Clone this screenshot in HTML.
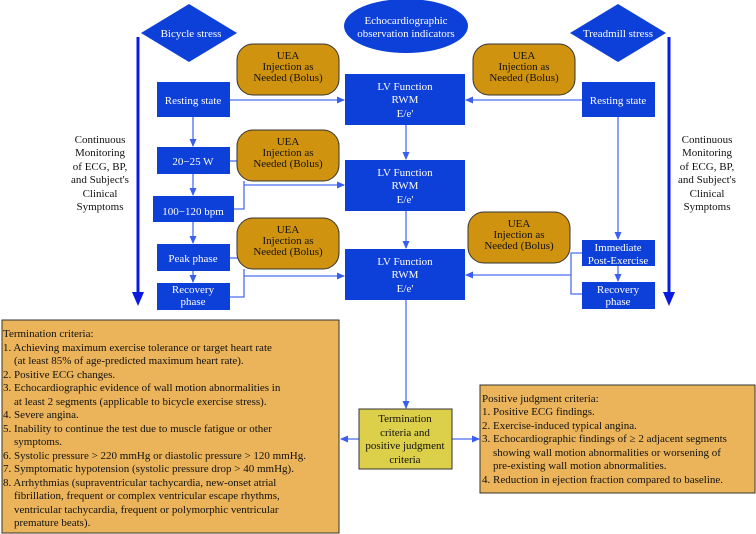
<!DOCTYPE html>
<html><head><meta charset="utf-8"><style>
html,body{margin:0;padding:0;background:#fff}
svg{display:block}
text{font-family:"Liberation Serif",serif}
.w{fill:#fff;font-size:11px;text-anchor:middle}
.k{fill:#111;font-size:11px;text-anchor:middle}
.t{fill:#111;font-size:11px}
.c{stroke:#4a6ef0;stroke-width:1.3;fill:none}
</style></head><body>
<svg width="756" height="534" viewBox="0 0 756 534" xmlns="http://www.w3.org/2000/svg">
<defs>
<marker id="a" markerWidth="8" markerHeight="8" refX="7" refY="4" orient="auto" markerUnits="userSpaceOnUse"><path d="M0,0.5 L8,4 L0,7.5 Z" fill="#3a5ef0"/></marker>
</defs>
<!-- thick monitoring lines -->
<line x1="138" y1="37" x2="138" y2="295" stroke="#0a1be0" stroke-width="3"/>
<path d="M132,292 L144,292 L138,306 Z" fill="#0a1be0"/>
<line x1="669" y1="37" x2="669" y2="295" stroke="#0a1be0" stroke-width="3"/>
<path d="M663,292 L675,292 L669,306 Z" fill="#0a1be0"/>
<!-- diamonds & ellipse -->
<path d="M189,4 L237,33 L189,62 L141,33 Z" fill="#0d3fd9"/>
<text class="w" x="191" y="37">Bicycle stress</text>
<path d="M618,4 L666,33 L618,62 L570,33 Z" fill="#0d3fd9"/>
<text class="w" x="618" y="37">Treadmill stress</text>
<ellipse cx="406" cy="26" rx="62" ry="27" fill="#0d3fd9"/>
<text class="w" x="406" y="24">Echocardiographic</text>
<text class="w" x="406" y="37">observation indicators</text>
<!-- side labels -->
<g class="k" fill="#111">
<text class="k" x="100" y="143">Continuous</text><text class="k" x="100" y="156">Monitoring</text><text class="k" x="100" y="170">of ECG, BP,</text><text class="k" x="100" y="183">and Subject's</text><text class="k" x="100" y="197">Clinical</text><text class="k" x="100" y="210">Symptoms</text>
<text class="k" x="707" y="143">Continuous</text><text class="k" x="707" y="156">Monitoring</text><text class="k" x="707" y="170">of ECG, BP,</text><text class="k" x="707" y="183">and Subject's</text><text class="k" x="707" y="197">Clinical</text><text class="k" x="707" y="210">Symptoms</text>
</g>
<!-- connectors -->
<line class="c" x1="230" y1="100" x2="344" y2="100" marker-end="url(#a)"/>
<line class="c" x1="582" y1="100" x2="466" y2="100" marker-end="url(#a)"/>
<line class="c" x1="193" y1="117" x2="193" y2="146" marker-end="url(#a)"/>
<line class="c" x1="193" y1="174" x2="193" y2="195" marker-end="url(#a)"/>
<line class="c" x1="193" y1="222" x2="193" y2="243" marker-end="url(#a)"/>
<line class="c" x1="193" y1="271" x2="193" y2="282" marker-end="url(#a)"/>
<path class="c" d="M230,161 L238,161"/>
<path class="c" d="M234,209 L244,209 L244,181"/>
<line class="c" x1="244" y1="185" x2="344" y2="185" marker-end="url(#a)"/>
<path class="c" d="M230,258 L238,258"/>
<path class="c" d="M230,297 L244,297 L244,269"/>
<line class="c" x1="244" y1="276" x2="344" y2="276" marker-end="url(#a)"/>
<line class="c" x1="406" y1="125" x2="406" y2="159" marker-end="url(#a)"/>
<line class="c" x1="406" y1="211" x2="406" y2="248" marker-end="url(#a)"/>
<line class="c" x1="618" y1="117" x2="618" y2="239" marker-end="url(#a)"/>
<line class="c" x1="618" y1="266" x2="618" y2="281" marker-end="url(#a)"/>
<path class="c" d="M582,253 L571,253 L571,294 L582,294"/>
<line class="c" x1="571" y1="275" x2="466" y2="275" marker-end="url(#a)"/>
<line class="c" x1="406" y1="300" x2="406" y2="408" marker-end="url(#a)"/>
<line class="c" x1="359" y1="439" x2="341" y2="439" marker-end="url(#a)"/>
<line class="c" x1="452" y1="439" x2="479" y2="439" marker-end="url(#a)"/>
<!-- UEA boxes -->
<g fill="#d09310" stroke="#333" stroke-width="1">
<rect x="237" y="44" width="102" height="51" rx="16"/>
<rect x="237" y="130" width="102" height="51" rx="16"/>
<rect x="237" y="218" width="102" height="51" rx="16"/>
<rect x="473" y="44" width="102" height="51" rx="16"/>
<rect x="468" y="212" width="102" height="51" rx="16"/>
</g>
<g>
<text class="k" x="288" y="59">UEA</text><text class="k" x="288" y="70">Injection as</text><text class="k" x="288" y="81">Needed (Bolus)</text>
<text class="k" x="288" y="145">UEA</text><text class="k" x="288" y="156">Injection as</text><text class="k" x="288" y="167">Needed (Bolus)</text>
<text class="k" x="288" y="233">UEA</text><text class="k" x="288" y="244">Injection as</text><text class="k" x="288" y="255">Needed (Bolus)</text>
<text class="k" x="524" y="59">UEA</text><text class="k" x="524" y="70">Injection as</text><text class="k" x="524" y="81">Needed (Bolus)</text>
<text class="k" x="519" y="227">UEA</text><text class="k" x="519" y="238">Injection as</text><text class="k" x="519" y="249">Needed (Bolus)</text>
</g>
<!-- blue boxes -->
<g fill="#0d3fd9">
<rect x="157" y="82" width="73" height="35"/>
<rect x="582" y="82" width="73" height="35"/>
<rect x="157" y="147" width="73" height="27"/>
<rect x="153" y="196" width="81" height="26"/>
<rect x="157" y="244" width="73" height="27"/>
<rect x="157" y="283" width="73" height="27"/>
<rect x="582" y="240" width="73" height="26"/>
<rect x="582" y="282" width="73" height="27"/>
<rect x="345" y="74" width="120" height="51"/>
<rect x="345" y="160" width="120" height="51"/>
<rect x="345" y="249" width="120" height="51"/>
</g>
<text class="w" x="193" y="104">Resting state</text>
<text class="w" x="618" y="104">Resting state</text>
<text class="w" x="193" y="165">20−25 W</text>
<text class="w" x="193" y="215">100−120 bpm</text>
<text class="w" x="193" y="262">Peak phase</text>
<text class="w" x="193" y="293">Recovery</text><text class="w" x="193" y="305">phase</text>
<text class="w" x="618" y="251">Immediate</text><text class="w" x="618" y="264">Post-Exercise</text>
<text class="w" x="618" y="293">Recovery</text><text class="w" x="618" y="305">phase</text>
<text class="w" x="405" y="90">LV Function</text><text class="w" x="405" y="103">RWM</text><text class="w" x="405" y="117">E/e'</text>
<text class="w" x="405" y="176">LV Function</text><text class="w" x="405" y="189">RWM</text><text class="w" x="405" y="203">E/e'</text>
<text class="w" x="405" y="265">LV Function</text><text class="w" x="405" y="278">RWM</text><text class="w" x="405" y="292">E/e'</text>
<!-- bottom boxes -->
<rect x="2" y="320" width="337" height="213" fill="#ebb45a" stroke="#333" stroke-width="1"/>
<g class="t">
<text class="t" x="3" y="337">Termination criteria:</text>
<text class="t" x="3" y="351">1. Achieving maximum exercise tolerance or target heart rate</text>
<text class="t" x="14" y="364">(at least 85% of age-predicted maximum heart rate).</text>
<text class="t" x="3" y="378">2. Positive ECG changes.</text>
<text class="t" x="3" y="391">3. Echocardiographic evidence of wall motion abnormalities in</text>
<text class="t" x="14" y="405">at least 2 segments (applicable to bicycle exercise stress).</text>
<text class="t" x="3" y="418">4. Severe angina.</text>
<text class="t" x="3" y="432">5. Inability to continue the test due to muscle fatigue or other</text>
<text class="t" x="14" y="445">symptoms.</text>
<text class="t" x="3" y="459">6. Systolic pressure &gt; 220 mmHg or diastolic pressure &gt; 120 mmHg.</text>
<text class="t" x="3" y="472">7. Symptomatic hypotension (systolic pressure drop &gt; 40 mmHg).</text>
<text class="t" x="3" y="486">8. Arrhythmias (supraventricular tachycardia, new-onset atrial</text>
<text class="t" x="14" y="499">fibrillation,  frequent or complex ventricular escape rhythms,</text>
<text class="t" x="14" y="513">ventricular tachycardia,  frequent or polymorphic ventricular</text>
<text class="t" x="14" y="526">premature beats).</text>
</g>
<rect x="359" y="409" width="93" height="60" fill="#dccf4a" stroke="#333" stroke-width="1"/>
<text class="k" x="405" y="422">Termination</text>
<text class="k" x="405" y="436">criteria and</text>
<text class="k" x="405" y="449">positive judgment</text>
<text class="k" x="405" y="463">criteria</text>
<rect x="480" y="385" width="275" height="108" fill="#ebb45a" stroke="#333" stroke-width="1"/>
<text class="t" x="482" y="402">Positive judgment criteria:</text>
<text class="t" x="482" y="415">1. Positive ECG findings.</text>
<text class="t" x="482" y="429">2. Exercise-induced typical angina.</text>
<text class="t" x="482" y="442">3. Echocardiographic findings of ≥ 2 adjacent segments</text>
<text class="t" x="493" y="456">showing wall motion abnormalities or worsening of</text>
<text class="t" x="493" y="469">pre-existing wall motion abnormalities.</text>
<text class="t" x="482" y="483">4. Reduction in ejection fraction compared to baseline.</text>
</svg>
</body></html>
